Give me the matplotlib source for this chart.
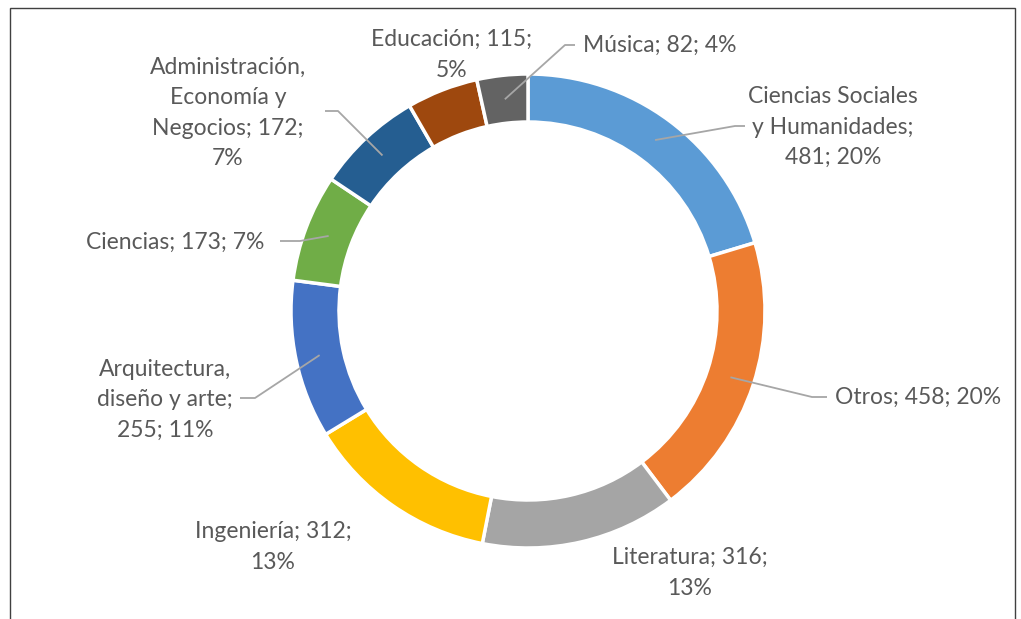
import matplotlib.pyplot as plt
from matplotlib.patches import Rectangle
import numpy as np

# data, clockwise from 12 o'clock
categories = ["Ciencias Sociales\ny Humanidades", "Otros", "Literatura", "Ingeniería",
              "Arquitectura,\ndiseño y arte", "Ciencias", "Administración,\nEconomía y\nNegocios",
              "Educación", "Música"]
values = [481, 458, 316, 312, 255, 173, 172, 115, 82]
percents = [20, 20, 13, 13, 11, 7, 7, 5, 4]   # as printed on the chart
colors = ["#5B9BD5", "#ED7D31", "#A5A5A5", "#FFC000", "#4472C4",
          "#70AD47", "#255E91", "#9E480E", "#636363"]

labels = ["Ciencias Sociales\ny Humanidades;\n%d; %d%%" % (values[0], percents[0]),
          "Otros; %d; %d%%" % (values[1], percents[1]),
          "Literatura; %d;\n%d%%" % (values[2], percents[2]),
          "Ingeniería; %d;\n%d%%" % (values[3], percents[3]),
          "Arquitectura,\ndiseño y arte;\n%d; %d%%" % (values[4], percents[4]),
          "Ciencias; %d; %d%%" % (values[5], percents[5]),
          "Administración,\nEconomía y\nNegocios; %d;\n%d%%" % (values[6], percents[6]),
          "Educación; %d;\n%d%%" % (values[7], percents[7]),
          "Música; %d; %d%%" % (values[8], percents[8])]

# label layout in pixel coords (x, y from top, ha)
lab_pos = [(833, 127, "center"), (835, 397, "left"), (690, 573, "center"),
           (273, 547, "center"), (165, 400, "center"), (175, 242, "center"),
           (228, 113, "center"), (452, 55, "center"), (583, 45, "left")]
# leader elbows (pixel coords): elbow point, end point; None = no leader
leaders = [((735, 126), (745, 126)), ((812, 397), (827, 397)), None, None,
           ((255, 398), (240, 398)), ((300, 241), (280, 241)),
           ((338, 111), (325, 111)), None, ((565, 45), (575, 45))]

W, H = 1021, 619
plt.rcParams['font.family'] = ['Lato', 'DejaVu Sans']
fig = plt.figure(figsize=(W / 100, H / 100), dpi=100)
ax = fig.add_axes([0, 0, 1, 1])

cx, cy, R = 528, H - 311, 237
wedges, _ = ax.pie(values, colors=colors, startangle=90, counterclock=False,
                   center=(cx, cy), radius=R, frame=True,
                   wedgeprops=dict(width=48, edgecolor='white', linewidth=2.5))
ax.set_xlim(0, W)
ax.set_ylim(0, H)
ax.set_aspect('equal')
ax.axis('off')

txt = "#595959"
for w, lab, (px, py, ha), ld in zip(wedges, labels, lab_pos, leaders):
    ax.text(px, H - py, lab, ha=ha, va='center', fontsize=16.5, color=txt,
            linespacing=1.55)
    if ld is None:
        continue
    mid = np.deg2rad((w.theta1 + w.theta2) / 2)
    sx, sy = cx + (R - 24) * np.cos(mid), cy + (R - 24) * np.sin(mid)
    (ex, ey), (fx, fy) = ld
    ax.plot([sx, ex, fx], [sy, H - ey, H - fy], color="#A6A6A6", lw=1.3,
            solid_capstyle='butt')

# chart border
ax.add_patch(Rectangle((10, -5), 1005, H - 8 + 5, fill=False, ec="#404040", lw=1,
                       clip_on=False))

fig.savefig("out.png", dpi=100)
